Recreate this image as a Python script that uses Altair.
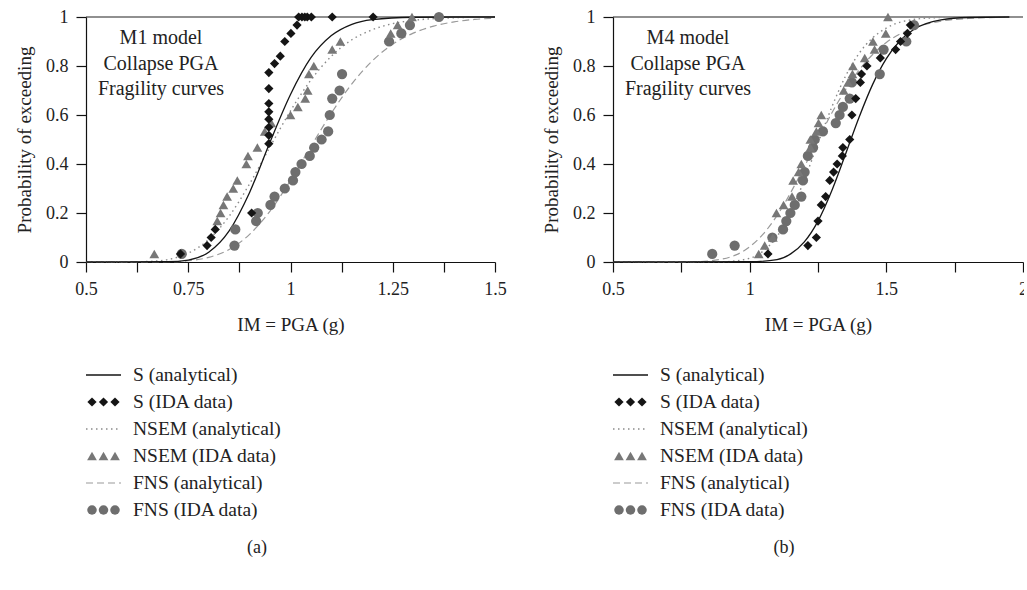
import altair as alt
import pandas as pd

FONT = "Liberation Serif"
BLACK = "#151515"
GREY_TRI = "#777777"
GREY_CIR = "#6e6e6e"
GREY_DOT = "#8a8a8a"
GREY_DASH = "#9a9a9a"

# ---------------- Panel (a): M1 model ----------------
a_s_curve_x = [0.50, 0.70, 0.75, 0.80, 0.85, 0.90, 0.95, 1.00, 1.05, 1.10, 1.15, 1.20, 1.30, 1.40, 1.50]
a_s_curve_y = [0.000, 0.001, 0.008, 0.040, 0.127, 0.284, 0.490, 0.684, 0.834, 0.924, 0.970, 0.989, 0.999, 1.000, 1.000]

a_nsem_curve_x = [0.50, 0.60, 0.65, 0.70, 0.75, 0.80, 0.85, 0.90, 0.95, 1.00, 1.05, 1.10, 1.15, 1.20, 1.25, 1.30, 1.40, 1.50]
a_nsem_curve_y = [0.000, 0.000, 0.002, 0.010, 0.036, 0.092, 0.187, 0.319, 0.470, 0.617, 0.743, 0.840, 0.907, 0.948, 0.973, 0.986, 0.997, 1.000]

a_fns_curve_x = [0.50, 0.70, 0.75, 0.80, 0.85, 0.90, 0.95, 1.00, 1.05, 1.10, 1.15, 1.20, 1.25, 1.30, 1.35, 1.40, 1.45, 1.50]
a_fns_curve_y = [0.000, 0.001, 0.005, 0.019, 0.051, 0.113, 0.208, 0.333, 0.472, 0.608, 0.727, 0.821, 0.889, 0.934, 0.963, 0.980, 0.990, 0.995]

a_s_ida_x = [0.731, 0.796, 0.806, 0.816, 0.905, 0.947, 0.947, 0.947, 0.947, 0.947, 0.947, 0.947, 0.947,
             0.961, 0.975, 0.986, 1.001, 1.016, 1.020, 1.028, 1.035, 1.041, 1.051, 1.102, 1.202]
a_s_ida_y = [0.033, 0.067, 0.100, 0.133, 0.200, 0.483, 0.517, 0.550, 0.583, 0.613, 0.647, 0.708, 0.773,
             0.810, 0.840, 0.900, 0.933, 0.967, 1.000, 1.000, 1.000, 1.000, 1.000, 1.000, 1.000]

a_nsem_ida_x = [0.667, 0.821, 0.829, 0.836, 0.845, 0.860, 0.870, 0.892, 0.896, 0.919, 0.937, 0.953,
                1.000, 1.018, 1.036, 1.042, 1.045, 1.057, 1.102, 1.122, 1.245, 1.262, 1.297]
a_nsem_ida_y = [0.033, 0.167, 0.200, 0.233, 0.267, 0.300, 0.333, 0.400, 0.433, 0.467, 0.533, 0.567,
                0.600, 0.633, 0.667, 0.700, 0.767, 0.800, 0.867, 0.900, 0.933, 0.967, 1.000]

a_fns_ida_x = [0.734, 0.863, 0.865, 0.916, 0.920, 0.951, 0.961, 0.986, 1.006, 1.012, 1.027, 1.047,
               1.058, 1.076, 1.092, 1.096, 1.102, 1.120, 1.126, 1.241, 1.271, 1.292, 1.363]
a_fns_ida_y = [0.033, 0.067, 0.133, 0.167, 0.200, 0.233, 0.267, 0.300, 0.333, 0.367, 0.400, 0.433,
               0.467, 0.500, 0.533, 0.600, 0.667, 0.700, 0.767, 0.900, 0.933, 0.967, 1.000]

# ---------------- Panel (b): M4 model ----------------
b_s_curve_x = [0.50, 1.00, 1.10, 1.15, 1.20, 1.25, 1.30, 1.35, 1.40, 1.45, 1.50, 1.55, 1.60, 1.70, 1.80, 1.95]
b_s_curve_y = [0.000, 0.001, 0.010, 0.033, 0.082, 0.167, 0.290, 0.438, 0.590, 0.725, 0.830, 0.903, 0.949, 0.988, 0.998, 1.000]

b_nsem_curve_x = [0.50, 0.90, 1.00, 1.05, 1.10, 1.15, 1.20, 1.25, 1.30, 1.35, 1.40, 1.45, 1.50, 1.60, 1.70, 1.80, 1.95]
b_nsem_curve_y = [0.000, 0.001, 0.015, 0.045, 0.104, 0.203, 0.335, 0.485, 0.631, 0.757, 0.851, 0.915, 0.955, 0.990, 0.998, 1.000, 1.000]

b_fns_curve_x = [0.50, 0.80, 0.90, 0.95, 1.00, 1.05, 1.10, 1.15, 1.20, 1.25, 1.30, 1.35, 1.40, 1.45, 1.50, 1.60, 1.70, 1.80, 1.95]
b_fns_curve_y = [0.000, 0.001, 0.012, 0.029, 0.062, 0.115, 0.189, 0.283, 0.389, 0.500, 0.607, 0.702, 0.783, 0.847, 0.896, 0.955, 0.983, 0.994, 0.999]

b_s_ida_x = [1.067, 1.213, 1.244, 1.250, 1.262, 1.278, 1.293, 1.307, 1.320, 1.339, 1.341, 1.366,
             1.374, 1.388, 1.405, 1.409, 1.429, 1.478, 1.534, 1.552, 1.577, 1.588]
b_s_ida_y = [0.033, 0.067, 0.100, 0.167, 0.233, 0.267, 0.333, 0.367, 0.400, 0.433, 0.467, 0.500,
             0.600, 0.667, 0.733, 0.767, 0.800, 0.833, 0.867, 0.900, 0.933, 0.967]

b_nsem_ida_x = [1.033, 1.055, 1.085, 1.098, 1.124, 1.155, 1.159, 1.179, 1.189, 1.222, 1.222, 1.244,
                1.252, 1.262, 1.344, 1.360, 1.376, 1.378, 1.421, 1.457, 1.451, 1.498, 1.506]
b_nsem_ida_y = [0.033, 0.067, 0.100, 0.200, 0.233, 0.267, 0.333, 0.367, 0.400, 0.467, 0.500, 0.533,
                0.567, 0.600, 0.700, 0.733, 0.767, 0.800, 0.833, 0.867, 0.900, 0.933, 1.000]

b_fns_ida_x = [0.863, 0.945, 1.083, 1.122, 1.134, 1.149, 1.165, 1.189, 1.195, 1.201, 1.213, 1.232,
               1.238, 1.268, 1.315, 1.329, 1.341, 1.366, 1.374, 1.476, 1.490, 1.573, 1.601]
b_fns_ida_y = [0.033, 0.067, 0.100, 0.133, 0.167, 0.200, 0.233, 0.267, 0.333, 0.367, 0.433, 0.467,
               0.500, 0.533, 0.567, 0.600, 0.633, 0.667, 0.733, 0.767, 0.867, 0.900, 0.967]

legend_labels = ["S (analytical)", "S (IDA data)", "NSEM (analytical)",
                 "NSEM (IDA data)", "FNS (analytical)", "FNS (IDA data)"]
notes_a = ["M1 model", "Collapse PGA", "Fragility curves"]
notes_b = ["M4 model", "Collapse PGA", "Fragility curves"]
y_ticks = [0, 0.2, 0.4, 0.6, 0.8, 1]


def df(xs, ys):
    return pd.DataFrame({"x": xs, "y": ys})


def panel(width, xmax, tick_step, label_mult, curves, points, notes):
    n = int(round((xmax - 0.5) / tick_step))
    xvals = [round(0.5 + tick_step * i, 4) for i in range(n + 1)]
    xscale = alt.Scale(domain=[0.5, xmax], nice=False, zero=False)
    yscale = alt.Scale(domain=[0, 1], nice=False)
    label_expr = (f"abs(datum.value*{label_mult} - round(datum.value*{label_mult})) < 0.001 "
                  f"? format(datum.value, '~g') : ''")
    xenc = alt.X("x:Q", scale=xscale,
                 axis=alt.Axis(values=xvals, labelExpr=label_expr, labelFlush=False,
                               title="IM = PGA (g)"))
    yenc = alt.Y("y:Q", scale=yscale,
                 axis=alt.Axis(values=y_ticks, format="~g", title="Probability of exceeding"))

    s_c, n_c, f_c = curves
    s_p, n_p, f_p = points

    top_rule = alt.Chart(pd.DataFrame({"x": [0.5], "x2": [xmax], "y": [1.0]})).mark_rule(
        color="#222222", strokeWidth=1.1).encode(x=xenc, x2="x2:Q", y=yenc)

    line_s = alt.Chart(s_c).mark_line(color=BLACK, strokeWidth=1.3, interpolate="monotone").encode(x=xenc, y=yenc)
    line_n = alt.Chart(n_c).mark_line(color=GREY_DOT, strokeWidth=1.4, strokeDash=[1.5, 3.5],
                                      interpolate="monotone").encode(x=xenc, y=yenc)
    line_f = alt.Chart(f_c).mark_line(color=GREY_DASH, strokeWidth=1.2, strokeDash=[7, 4],
                                      interpolate="monotone").encode(x=xenc, y=yenc)

    pts_f = alt.Chart(f_p).mark_point(shape="circle", filled=True, opacity=1, color=GREY_CIR,
                                      size=105).encode(x=xenc, y=yenc)
    pts_n = alt.Chart(n_p).mark_point(shape="triangle-up", filled=True, opacity=1, color=GREY_TRI,
                                      size=95).encode(x=xenc, y=yenc)
    pts_s = alt.Chart(s_p).mark_point(shape="diamond", filled=True, opacity=1, color=BLACK,
                                      size=85).encode(x=xenc, y=yenc)

    note_layers = []
    for i, t in enumerate(notes):
        note_layers.append(
            alt.Chart(pd.DataFrame({"t": [t]})).mark_text(
                font=FONT, fontSize=20, color="#222222", align="center", baseline="middle"
            ).encode(text="t:N", x=alt.value(75), y=alt.value(21 + 25.5 * i))
        )

    return alt.layer(top_rule, line_f, line_n, line_s, pts_f, pts_n, pts_s, *note_layers).properties(
        width=width, height=245)


def legend(width, caption):
    rows = list(range(len(legend_labels)))
    lab = pd.DataFrame({"lx": [47] * len(rows), "row": rows, "t": legend_labels})
    xs = alt.X("lx:Q", scale=alt.Scale(domain=[0, width], nice=False, zero=False), axis=None)
    ys = alt.Y("row:Q", scale=alt.Scale(domain=[-0.481, 6.926], reverse=True, nice=False, zero=False), axis=None)

    texts = alt.Chart(lab).mark_text(font=FONT, fontSize=19.5, color="#222222", align="left",
                                     baseline="middle").encode(x=xs, y=ys, text="t:N")

    def seg(row, color, dash, sw):
        d = pd.DataFrame({"lx": [0], "lx2": [35], "row": [row]})
        kw = dict(color=color, strokeWidth=sw)
        if dash:
            kw["strokeDash"] = dash
        return alt.Chart(d).mark_rule(**kw).encode(x=xs, x2="lx2:Q", y=ys)

    def sym(row, shape, color, size):
        d = pd.DataFrame({"lx": [6, 17.5, 29], "row": [row] * 3})
        return alt.Chart(d).mark_point(shape=shape, filled=True, opacity=1, color=color,
                                       size=size).encode(x=xs, y=ys)

    cap = alt.Chart(pd.DataFrame({"lx": [171], "row": [6.407], "t": [caption]})).mark_text(
        font=FONT, fontSize=18, color="#222222", align="center", baseline="middle"
    ).encode(x=xs, y=ys, text="t:N")

    return alt.layer(
        seg(0, BLACK, None, 1.3),
        sym(1, "diamond", BLACK, 85),
        seg(2, GREY_DOT, [1.5, 3.5], 1.4),
        sym(3, "triangle-up", GREY_TRI, 95),
        seg(4, GREY_DASH, [7, 4], 1.2),
        sym(5, "circle", GREY_CIR, 90),
        texts, cap,
    ).properties(width=width, height=200)


plot_a = panel(409, 1.5, 0.125, 4,
               (df(a_s_curve_x, a_s_curve_y), df(a_nsem_curve_x, a_nsem_curve_y), df(a_fns_curve_x, a_fns_curve_y)),
               (df(a_s_ida_x, a_s_ida_y), df(a_nsem_ida_x, a_nsem_ida_y), df(a_fns_ida_x, a_fns_ida_y)),
               notes_a)
plot_b = panel(410, 2.0, 0.25, 2,
               (df(b_s_curve_x, b_s_curve_y), df(b_nsem_curve_x, b_nsem_curve_y), df(b_fns_curve_x, b_fns_curve_y)),
               (df(b_s_ida_x, b_s_ida_y), df(b_nsem_ida_x, b_nsem_ida_y), df(b_fns_ida_x, b_fns_ida_y)),
               notes_b)

col_a = alt.vconcat(plot_a, legend(409, "(a)"), spacing=100, bounds="flush")
col_b = alt.vconcat(plot_b, legend(410, "(b)"), spacing=100, bounds="flush")

chart = alt.hconcat(col_a, col_b, spacing=35).resolve_scale(
    x="independent", y="independent"
).properties(
    padding={"left": 15, "top": 8, "right": -4, "bottom": 5}
).configure_view(stroke=None).configure_axis(
    grid=False,
    domainColor="#111111",
    domainWidth=1.2,
    tickColor="#111111",
    tickWidth=1.2,
    tickSize=10,
    labelFont=FONT,
    labelFontSize=18,
    labelColor="#222222",
    labelPadding=8,
    titleFont=FONT,
    titleFontSize=19,
    titleFontWeight="normal",
    titleColor="#222222",
).configure_axisX(titlePadding=17).configure_axisY(titlePadding=11)

chart.save("out.html", embed_options={"renderer": "svg", "actions": False})
